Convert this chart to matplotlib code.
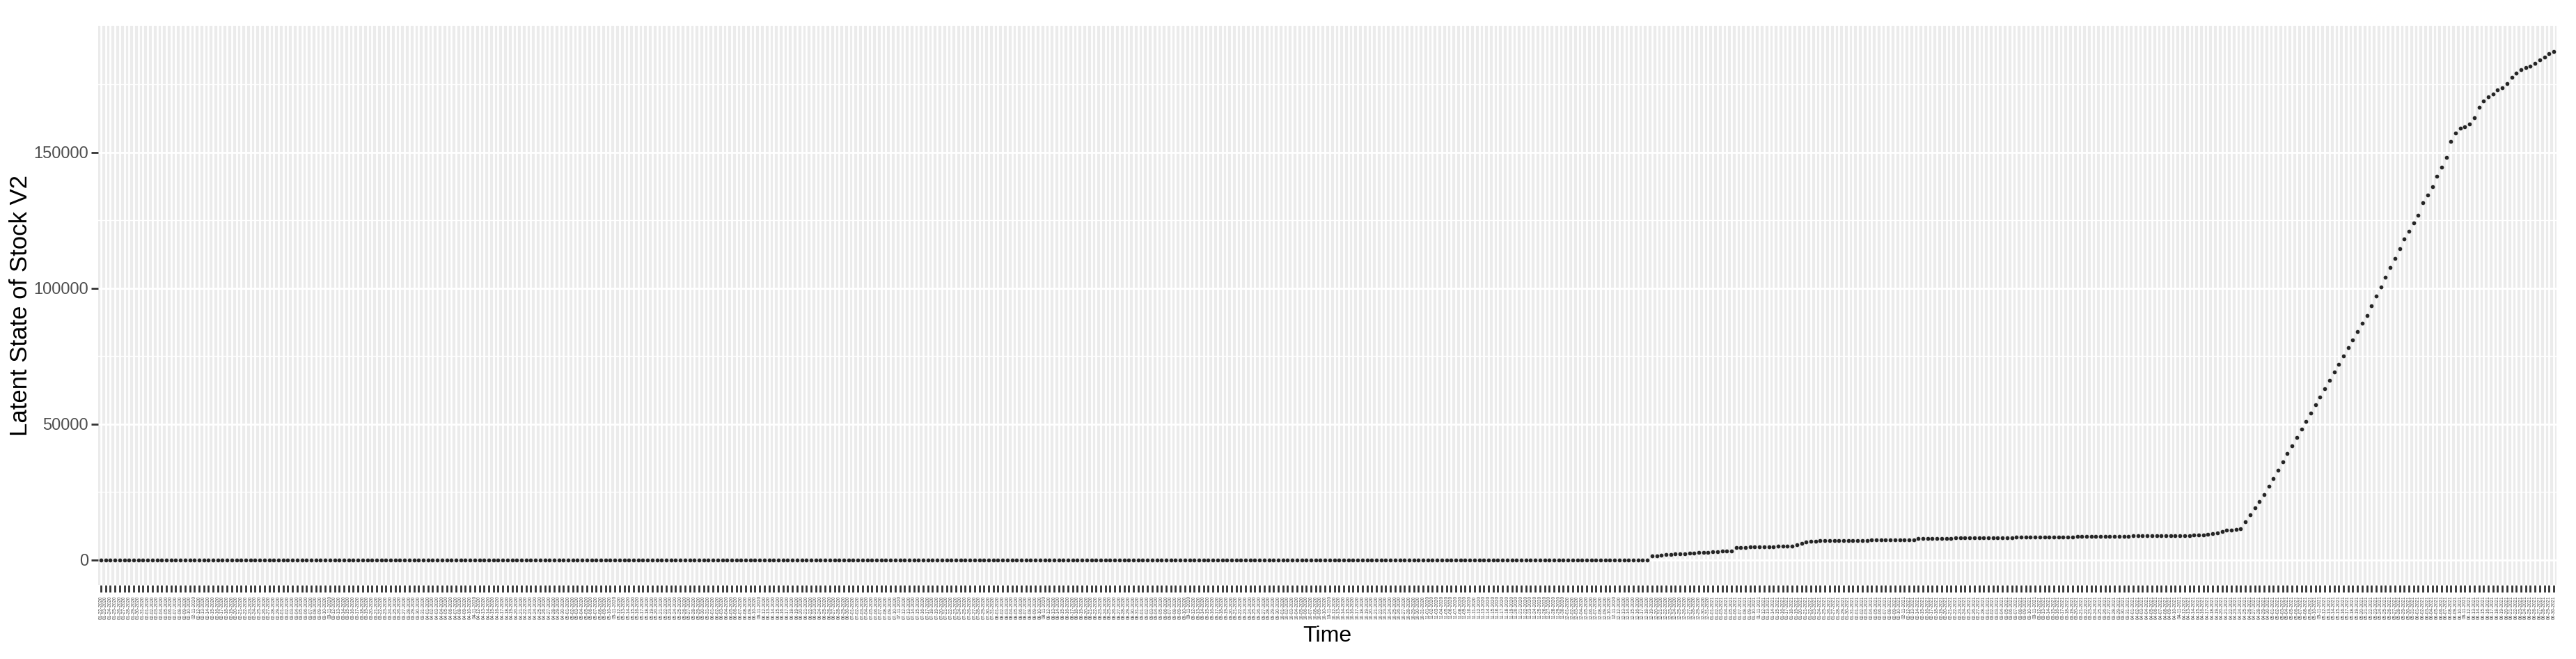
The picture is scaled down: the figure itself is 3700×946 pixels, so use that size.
import numpy as np
import pandas as pd
import matplotlib
matplotlib.use("Agg")
import matplotlib.pyplot as plt
from matplotlib.ticker import MultipleLocator

# ---------------- data ----------------
start_date = "2020-01-22"
n_days = 526
dates = pd.date_range(start_date, periods=n_days, freq="D")
date_labels = [d.strftime("%m-%d-%Y") for d in dates]

zeros_part = [0] * 332
early_rise = [1300, 1500, 1700, 1800, 2000, 2100, 2200, 2300, 2400, 2500, 2600, 2700,
              2800, 2900, 3000, 3100, 3200, 3300]
plateau1 = [4500, 4600, 4600, 4700, 4700, 4700, 4800, 4800, 4800, 4900, 4900, 5000, 5000]
step2 = [5500, 6000, 6500, 6800, 6900, 7000, 7000]
plateau2 = [7000, 7000, 7050, 7050, 7100, 7100, 7100, 7150, 7150, 7200, 7200, 7200, 7250,
            7250, 7250, 7300, 7300, 7300, 7300]
plateau3 = [7800, 7820, 7840, 7860, 7880, 7900, 7920, 7940, 7960, 7980, 8000, 8020, 8040,
            8060, 8080, 8100, 8120, 8140, 8160, 8180, 8200, 8220, 8240, 8260, 8280, 8300,
            8320, 8340, 8360, 8380, 8400, 8420, 8440, 8460, 8480, 8500, 8520, 8540, 8560,
            8580, 8600, 8620, 8640, 8660, 8680, 8700, 8720, 8740, 8760, 8780, 8800, 8820,
            8840, 8860, 8880, 8900, 8920, 8940, 8960, 8980, 9000, 9000]
pre_surge = [9300, 9600, 10000, 10400, 10800, 11000, 11200, 11500]
surge = [14000, 16500, 19000, 21500, 24000, 27000, 30000, 33000, 36000, 39000, 42000,
         45000, 48000, 51000, 54000, 57000, 60000, 63000, 66000, 69000, 72000, 75000,
         78000, 81000, 84000, 87000, 90000, 93500, 97000, 100500, 104000, 107500, 111000,
         114500, 118000, 121000, 124000]
top_part = [126800, 131300, 134200, 137300, 141100, 144500, 148100, 153900, 157100,
            158900, 159300, 160500, 162600, 166600, 168800, 170500, 171500, 172900,
            173800, 175200, 177700, 179100, 180500, 181300, 181800, 182700, 183900,
            185100, 186200, 187200]

values = (zeros_part + early_rise + plateau1 + step2 + plateau2 + plateau3 +
          pre_surge + surge + top_part)
values = values[:n_days]
n = len(values)
labels = date_labels[:n]

# ---------------- figure ----------------
W, H, DPI = 3700, 946, 100
fig = plt.figure(figsize=(W / DPI, H / DPI), dpi=DPI)
ax = fig.add_axes([141 / W, 1 - 840 / H, (3672 - 141) / W, (840 - 37) / H])

panel_bg = "#EBEBEB"
ax.set_facecolor(panel_bg)
for s in ax.spines.values():
    s.set_visible(False)

x = np.arange(n)
vmax = max(values)
vmin = min(values)
span = vmax - vmin
ax.set_xlim(-0.6, n - 1 + 0.6)
ax.set_ylim(vmin - 0.05 * span, vmax + 0.05 * span)

ax.set_yticks([0, 50000, 100000, 150000])
ax.yaxis.set_minor_locator(MultipleLocator(25000))
ax.set_yticklabels(["0", "50000", "100000", "150000"])
ax.set_xticks(x)
ax.set_xticklabels(labels, rotation=90, fontsize=4.8, color="#4D4D4D",
                   family="Liberation Sans")

ax.grid(True, which="major", axis="both", color="white", linewidth=2.0)
ax.grid(True, which="minor", axis="y", color="white", linewidth=1.0)
ax.set_axisbelow(True)

ax.tick_params(axis="y", which="major", length=7, width=2, color="#333333",
               labelsize=17, labelcolor="#4D4D4D", pad=3)
ax.tick_params(axis="y", which="minor", length=0)
ax.tick_params(axis="x", which="major", length=7, width=2, color="#333333", pad=4)
for lab in ax.get_yticklabels():
    lab.set_family("Liberation Sans")

ax.scatter(x, values, s=17, color="#262626", linewidths=0, zorder=3)

ax.set_xlabel("Time", fontsize=23, family="Liberation Sans", color="black")
ax.set_ylabel("Latent State of Stock V2", fontsize=25, family="Liberation Sans",
              color="black")
ax.xaxis.set_label_coords(0.5, -(898 - 840) / (840 - 37))
ax.yaxis.set_label_coords(-(141 - 46) / (3672 - 141), 0.5)

fig.savefig("out.png", dpi=DPI, facecolor="white")
